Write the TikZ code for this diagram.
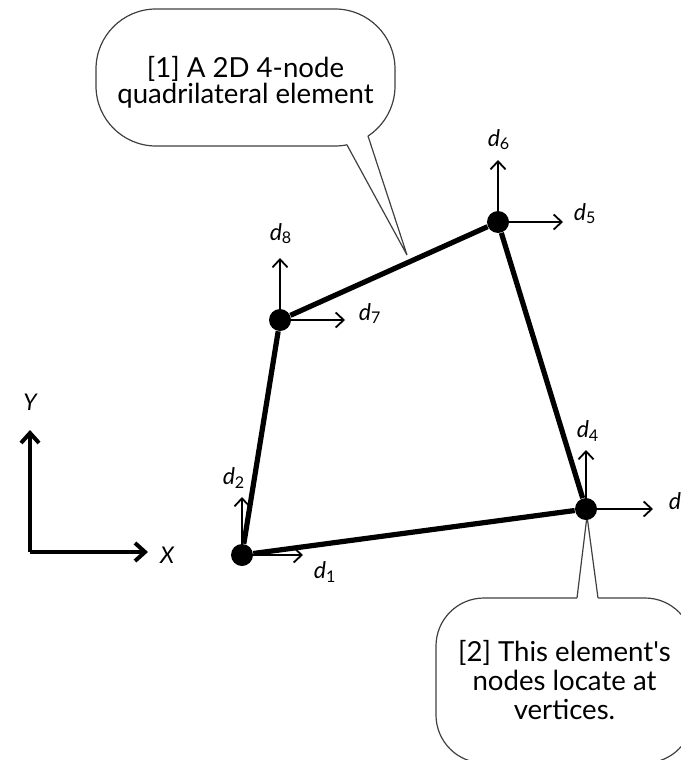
\documentclass[tikz,border=0pt]{standalone}
\usepackage{fontspec}
\setmainfont{Lato}
\usetikzlibrary{positioning,calc,arrows.meta}
\newcommand{\dlab}[1]{\textit{d}\textsubscript{#1}}

\begin{document}
\begin{tikzpicture}[x=0.5pt,y=-0.5pt,
  dot/.style={circle,fill=black,inner sep=0pt,minimum size=11pt},
  elem/.style={line width=2.6pt},
  dofarr/.style={line width=0.9pt,-{Straight Barb[length=4pt,width=7.5pt]}},
  axisarr/.style={line width=2pt,-{Straight Barb[length=5pt,width=9pt]}},
  doflab/.style={font=\fontsize{11.5}{13}\selectfont,inner sep=1pt},
  axlab/.style={font=\fontsize{11.5}{13}\selectfont\itshape,inner sep=1pt},
  bubble/.style={draw=black!75,line width=0.6pt,fill=white,align=center,
    font=\fontsize{13.8}{14.5}\selectfont},
  tail/.style={draw=black!75,line width=0.6pt}]

\useasboundingbox (0,0) rectangle (680,760);

\coordinate (o) at (30,552);
\draw[axisarr] (o) -- ++(0,-122) node[axlab,anchor=south,yshift=8pt] (ylab) {Y};
\draw[axisarr] (o) -- ++(118,0) node[axlab,anchor=west,xshift=4pt,yshift=-1.5pt] (xlab) {X};

\node[bubble,rounded corners=30pt,minimum width=149.5pt,minimum height=68.5pt] (c1) at (245.5,77.5) {\rule{0pt}{15pt}[1] A 2D 4-node\\[-1.5pt]quadrilateral element};
\coordinate (tip1) at (407,255);
\fill[white] (347,145) -- (tip1) -- (368,136) -- (364,133) -- (350,141) -- cycle;
\draw[tail] (347,145) -- (tip1) -- (368,136);

\node[bubble,rounded corners=24pt,minimum width=128.5pt,minimum height=82.5pt] (c2) at (564.5,680.5) {[2] This element\textquotesingle s\\nodes locate at\\vertices.};
\coordinate (tip2) at (587,516);
\fill[white] (577,598) -- (tip2) -- (598,598) -- (598,602) -- (577,602) -- cycle;
\draw[tail] (577,598) -- (tip2) -- (598,598);

\node[dot] (n1) at (242,555) {};
\node[dot] (n2) at (586,509) {};
\node[dot] (n3) at (498,222) {};
\node[dot] (n4) at (280,320) {};

\draw[elem] (n1) -- (n2) -- (n3) -- (n4) -- (n1);

\draw[dofarr] (n1) -- ++(61,0) node[doflab,anchor=north west,xshift=4pt,yshift=-2pt] (l1) {\dlab{1}};
\draw[dofarr] (n1) -- ++(0,-58) node[doflab,anchor=south,xshift=-4pt,yshift=3pt] (l2) {\dlab{2}};
\draw[dofarr] (n2) -- ++(67,0) node[doflab,anchor=base west,xshift=6.5pt] (l3) {\dlab{3}};
\draw[dofarr] (n2) -- ++(0,-59) node[doflab,anchor=south,xshift=1pt,yshift=3pt] (l4) {\dlab{4}};
\draw[dofarr] (n3) -- ++(65,0) node[doflab,anchor=base west,xshift=4pt,yshift=1pt] (l5) {\dlab{5}};
\draw[dofarr] (n3) -- ++(0,-62) node[doflab,anchor=south,xshift=0.5pt,yshift=3.5pt] (l6) {\dlab{6}};
\draw[dofarr] (n4) -- ++(65,0) node[doflab,anchor=base west,xshift=5.5pt] (l7) {\dlab{7}};
\draw[dofarr] (n4) -- ++(0,-62) node[doflab,anchor=south,xshift=0.5pt,yshift=5.5pt] (l8) {\dlab{8}};
\end{tikzpicture}
\end{document}
